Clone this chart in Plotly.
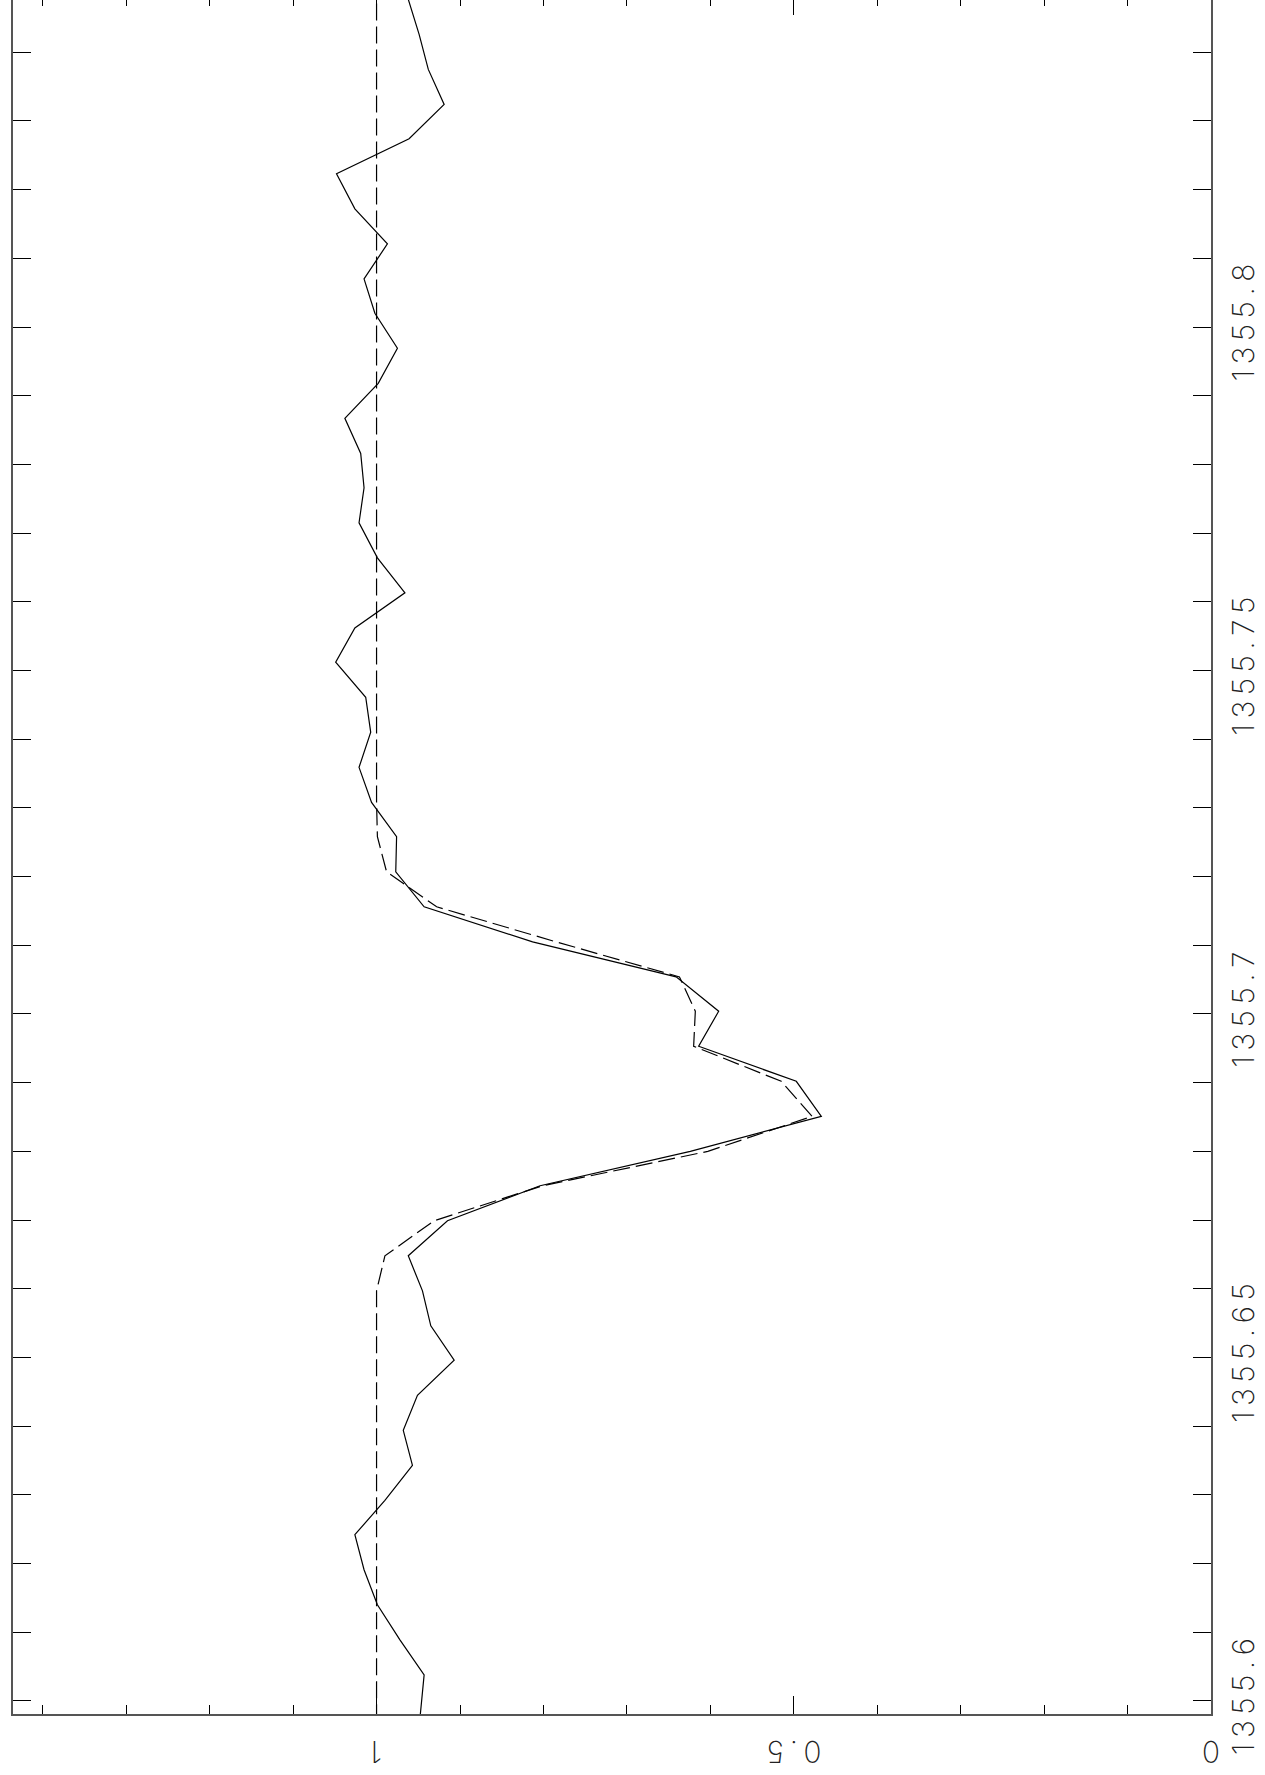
import plotly.graph_objects as go

# Wavelength grid (Angstrom)
wavelength = [
    1355.5937, 1355.5988, 1355.6038, 1355.6089, 1355.6140, 1355.6191, 1355.6242,
    1355.6292, 1355.6343, 1355.6394, 1355.6445, 1355.6496, 1355.6546, 1355.6597,
    1355.6648, 1355.6699, 1355.6750, 1355.6800, 1355.6851, 1355.6902, 1355.6953,
    1355.7004, 1355.7054, 1355.7105, 1355.7156, 1355.7207, 1355.7258, 1355.7308,
    1355.7359, 1355.7410, 1355.7461, 1355.7512, 1355.7562, 1355.7613, 1355.7664,
    1355.7715, 1355.7766, 1355.7816, 1355.7867, 1355.7918, 1355.7969, 1355.8020,
    1355.8070, 1355.8121, 1355.8172, 1355.8223, 1355.8274, 1355.8324, 1355.8375,
    1355.8426, 1355.8477, 1355.8528,
]

# Observed normalised flux (solid)
flux_obs = [
    0.951, 0.947, 0.943, 0.972, 0.999, 1.015, 1.026,
    0.990, 0.957, 0.968, 0.951, 0.907, 0.935, 0.945,
    0.962, 0.915, 0.804, 0.624, 0.467, 0.497, 0.614,
    0.590, 0.641, 0.813, 0.943, 0.977, 0.976, 1.006,
    1.021, 1.007, 1.013, 1.049, 1.026, 0.966, 0.999,
    1.021, 1.015, 1.019, 1.038, 0.998, 0.975, 1.002,
    1.015, 0.987, 1.026, 1.048, 0.961, 0.919, 0.938,
    0.949, 0.962, 0.973,
]

# Model profile (dashed)
flux_model = [
    1.000, 1.000, 1.000, 1.000, 1.000, 1.000, 1.000,
    1.000, 1.000, 1.000, 1.000, 1.000, 1.000, 1.000,
    0.990, 0.931, 0.801, 0.603, 0.478, 0.515, 0.620,
    0.618, 0.637, 0.785, 0.928, 0.988, 0.999, 1.000,
    1.000, 1.000, 1.000, 1.000, 1.000, 1.000, 1.000,
    1.000, 1.000, 1.000, 1.000, 1.000, 1.000, 1.000,
    1.000, 1.000, 1.000, 1.000, 1.000, 1.000, 1.000,
    1.000, 1.000, 1.000,
]

flux_ticks = [0, 0.5, 1]
flux_ticklabels = ["0", "0.5", "1"]
wave_ticks = [1355.6, 1355.65, 1355.7, 1355.75, 1355.8]
wave_ticklabels = ["1355.6", "1355.65", "1355.7", "1355.75", "1355.8"]


def spaced(s):
    # wide, plotter-like letter spacing using thin spaces
    return "\u2009".join(s)


FONT = dict(family="Inter, DejaVu Sans, sans-serif", size=30, color="#222", weight=200)

fig = go.Figure()
fig.add_trace(go.Scatter(x=flux_obs, y=wavelength, mode="lines",
                         line=dict(color="black", width=1.2), showlegend=False,
                         hoverinfo="skip"))
fig.add_trace(go.Scatter(x=flux_model, y=wavelength, mode="lines",
                         line=dict(color="black", width=1.2, dash="17px,6px"),
                         showlegend=False, hoverinfo="skip"))
# invisible trace so the top tick axis is drawn
fig.add_trace(go.Scatter(x=[0.5], y=[1355.7], xaxis="x2", mode="markers",
                         marker=dict(opacity=0), showlegend=False, hoverinfo="skip"))

# flux labels, upside down, centred under their ticks
for v, t in zip(flux_ticks, flux_ticklabels):
    fig.add_annotation(x=v, y=0, xref="x", yref="paper", text=spaced(t),
                       showarrow=False, textangle=180, xanchor="center",
                       yanchor="middle", yshift=-38, font=FONT)

fig.update_layout(
    width=1265, height=1775,
    margin=dict(l=13, r=54, t=0, b=61),
    paper_bgcolor="white", plot_bgcolor="white",
    font=FONT,
    xaxis=dict(
        range=[1.4357, 0], showgrid=False, zeroline=False,
        showline=True, linecolor="#555", linewidth=1.5, mirror=False,
        ticks="inside", ticklen=18, tickwidth=1.2, tickcolor="black",
        tickvals=flux_ticks, showticklabels=False,
        minor=dict(dtick=0.1, tick0=0, ticks="inside", ticklen=9,
                   tickwidth=1.2, tickcolor="black", showgrid=False),
    ),
    xaxis2=dict(
        overlaying="x", side="top", matches="x", range=[1.4357, 0],
        showgrid=False, zeroline=False, showline=False,
        ticks="inside", ticklen=15, tickwidth=1.2, tickcolor="black",
        tickvals=flux_ticks, showticklabels=False,
        minor=dict(dtick=0.1, tick0=0, ticks="inside", ticklen=6,
                   tickwidth=1.2, tickcolor="black", showgrid=False),
    ),
    yaxis=dict(
        range=[1355.5981, 1355.8476], side="right", showgrid=False, zeroline=False,
        showline=True, linecolor="#555", linewidth=1.5, mirror="allticks",
        ticks="inside", ticklen=18, tickwidth=1.2, tickcolor="black",
        tickvals=wave_ticks, ticktext=[spaced(t) for t in wave_ticklabels],
        tickangle=-90, ticklabelstandoff=5,
        minor=dict(dtick=0.01, tick0=1355.6, ticks="inside", ticklen=9,
                   tickwidth=1.2, tickcolor="black", showgrid=False),
        tickfont=FONT,
    ),
)

fig.write_html("out.html")
